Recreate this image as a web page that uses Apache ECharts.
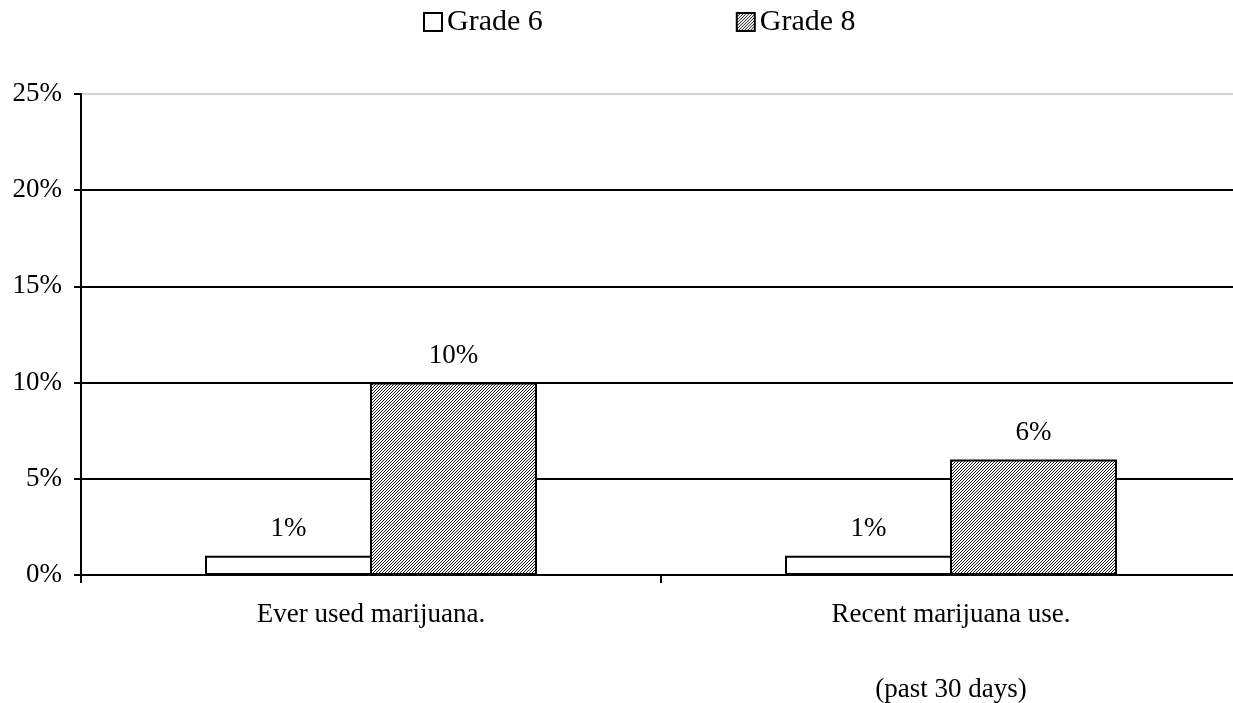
<!DOCTYPE html>
<html>
<head>
<meta charset="utf-8">
<script src="https://cdn.jsdelivr.net/npm/echarts@6/dist/echarts.min.js"></script>
<style>html,body{margin:0;padding:0;background:#fff;}#c{width:1233px;height:703px;}</style>
</head>
<body>
<div id="c"></div>
<script>
const categories = ['Ever used marijuana.', 'Recent marijuana use.\n\n(past 30 days)'];
const seriesNames = ['Grade 6', 'Grade 8'];
const grade6 = [1, 1];
const grade8 = [10, 6];
const yTicks = [0, 5, 10, 15, 20, 25];

const FONT = '"Liberation Serif", "Times New Roman", serif';

function makePattern() {
  const c = document.createElement('canvas');
  c.width = 3; c.height = 3;
  const ctx = c.getContext('2d');
  ctx.fillStyle = '#ffffff';
  ctx.fillRect(0, 0, 3, 3);
  ctx.fillStyle = '#1a1a1a';
  for (let y = 0; y < 3; y++) for (let x = 0; x < 3; x++) {
    if ((x + y) % 3 === 0) ctx.fillRect(x, y, 1, 1);
  }
  return c;
}
const pattern = { image: makePattern(), repeat: 'repeat' };

const chart = echarts.init(document.getElementById('c'), null, { renderer: 'canvas' });
const labelCfg = { show: true, position: 'top', distance: 13, color: '#000', fontFamily: FONT, fontSize: 27, formatter: p => p.value + '%' };
chart.setOption({
  animation: false,
  textStyle: { fontFamily: FONT },
  legend: {
    data: seriesNames,
    left: 423, top: 7, padding: 0,
    icon: 'rect',
    itemWidth: 18, itemHeight: 18, itemGap: 193,
    textStyle: { fontFamily: FONT, fontSize: 30, color: '#000' },
    itemStyle: { borderColor: '#000', borderWidth: 2 }
  },
  grid: { left: 81, top: 94, width: 1160, height: 481, containLabel: false, outerBoundsMode: 'none' },
  xAxis: {
    type: 'category',
    data: categories,
    axisLine: { lineStyle: { color: '#000', width: 2 } },
    axisTick: { show: true, length: 8, lineStyle: { color: '#000', width: 2 } },
    axisLabel: { color: '#000', fontFamily: FONT, fontSize: 27, margin: 21, lineHeight: 37.5 }
  },
  yAxis: {
    type: 'value', min: 0, max: 25, interval: 5,
    axisLine: { show: true, lineStyle: { color: '#000', width: 2 } },
    axisTick: { show: true, length: 7, lineStyle: { color: '#000', width: 2 } },
    axisLabel: { color: '#000', fontFamily: FONT, fontSize: 27, margin: 19, formatter: v => v + '%' },
    splitLine: { show: true, lineStyle: { color: ['#000', '#000', '#000', '#000', '#000', '#d4d4d4'], width: 2 } }
  },
  series: [
    { name: seriesNames[0], type: 'bar', data: grade6, barWidth: 167, barGap: '-1.2%',
      itemStyle: { color: '#fff', borderColor: '#000', borderWidth: 2 }, label: labelCfg },
    { name: seriesNames[1], type: 'bar', data: grade8, barWidth: 167, barGap: '-1.2%',
      itemStyle: { color: pattern, borderColor: '#000', borderWidth: 2 }, label: labelCfg }
  ]
});
</script>
</body>
</html>
